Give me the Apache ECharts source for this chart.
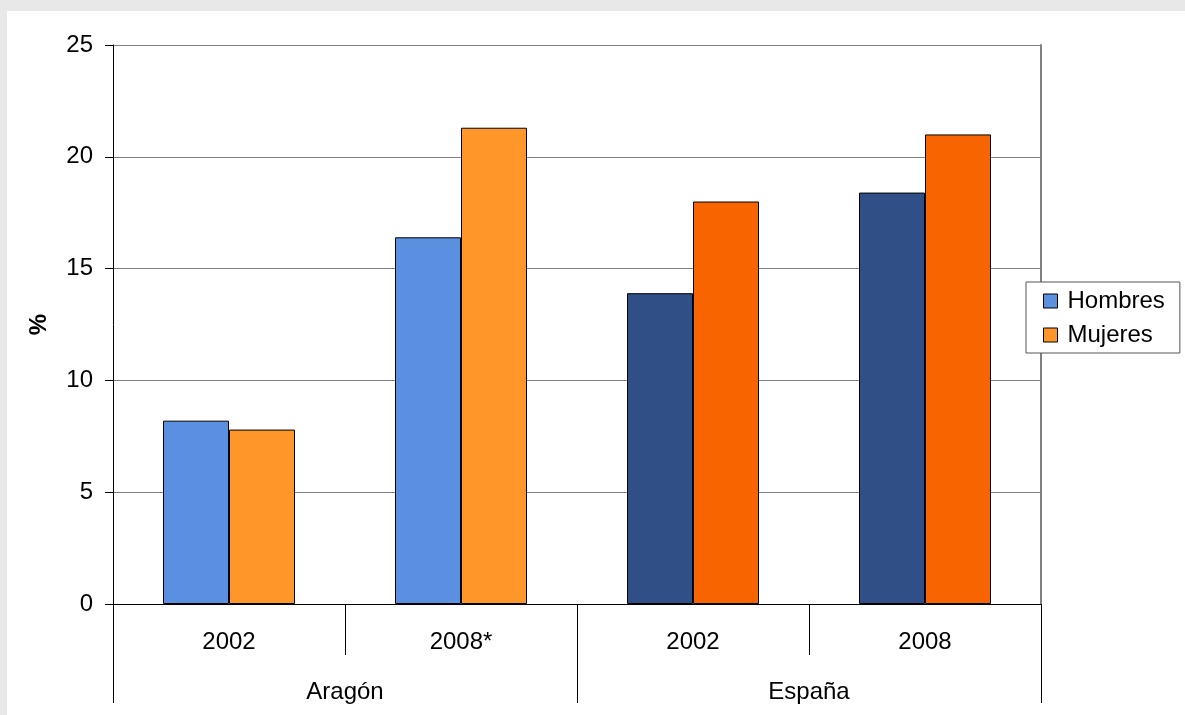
<!DOCTYPE html>
<html>
<head>
<meta charset="utf-8">
<script src="https://cdn.jsdelivr.net/npm/echarts@6/dist/echarts.min.js"></script>
<style>
  html, body { margin: 0; padding: 0; background: #e8e8e8; width: 1185px; height: 715px; overflow: hidden; }
  #panel { position: absolute; left: 7px; top: 11px; right: 0; bottom: 0; background: #ffffff; }
  #chart { position: absolute; left: 0; top: 0; width: 1185px; height: 715px; }
</style>
</head>
<body>
<div id="panel"></div>
<div id="chart"></div>
<script>
const years = ['2002', '2008*', '2002', '2008'];
const regions = ['Aragón', 'España'];
const hombres = [8.2, 16.4, 13.9, 18.4];
const mujeres = [7.8, 21.3, 18.0, 21.0];
const seriesNames = ['Hombres', 'Mujeres'];
const yMin = 0, yMax = 25, yStep = 5;

const FONT = "'Liberation Sans', Arial, sans-serif";
const lightColors = ['#5B8FE0', '#FF9629'];
const darkColors = ['#2F4F86', '#F86400'];

function buildData(values, s) {
  return values.map((v, i) => ({
    value: v,
    itemStyle: { color: i < 2 ? lightColors[s] : darkColors[s] }
  }));
}

const chart = echarts.init(document.getElementById('chart'), null, { renderer: 'canvas' });
chart.setOption({
  animation: false,
  textStyle: { fontFamily: FONT },
  grid: { left: 113, right: 144, top: 45, bottom: 111, containLabel: false },
  legend: {
    orient: 'vertical',
    left: 1026,
    top: 282,
    padding: [7, 15, 6, 17],
    itemGap: 10,
    itemWidth: 14,
    itemHeight: 14,
    borderColor: '#555555',
    borderWidth: 1,
    backgroundColor: '#ffffff',
    icon: 'rect',
    itemStyle: { borderColor: '#000000', borderWidth: 1 },
    textStyle: { fontSize: 24, color: '#000000', fontFamily: FONT, padding: [0, 0, 0, 5] },
    data: seriesNames
  },
  xAxis: [
    {
      type: 'category',
      data: years,
      position: 'bottom',
      axisLine: { show: true, lineStyle: { color: '#000000', width: 1 } },
      axisTick: { show: true, length: 51, interval: 0, lineStyle: { color: '#000000' } },
      axisLabel: { fontSize: 24, color: '#000000', margin: 26, fontFamily: FONT, interval: 0 },
      splitLine: { show: false }
    },
    {
      type: 'category',
      data: regions,
      position: 'bottom',
      axisLine: { show: false },
      axisTick: { show: true, length: 99, interval: 0, lineStyle: { color: '#000000' } },
      axisLabel: { fontSize: 24, color: '#000000', margin: 76, fontFamily: FONT, interval: 0 },
      splitLine: { show: false }
    }
  ],
  yAxis: [
    {
      type: 'value',
      min: yMin,
      max: yMax,
      interval: yStep,
      name: '%',
      nameLocation: 'middle',
      nameGap: 62,
      nameRotate: 90,
      nameTextStyle: { fontSize: 24, fontWeight: 'bold', color: '#000000', fontFamily: FONT },
      axisLine: { show: true, lineStyle: { color: '#000000', width: 1 } },
      axisTick: { show: true, length: 8, lineStyle: { color: '#000000' } },
      axisLabel: { fontSize: 24, color: '#000000', margin: 20, fontFamily: FONT },
      splitLine: { show: true, lineStyle: { color: '#808080', width: 1 } }
    },
    {
      type: 'value',
      min: yMin,
      max: yMax,
      interval: yStep,
      position: 'right',
      axisLine: { show: true, lineStyle: { color: '#808080', width: 2 } },
      axisTick: { show: false },
      axisLabel: { show: false },
      splitLine: { show: false }
    }
  ],
  series: [
    {
      name: seriesNames[0],
      type: 'bar',
      xAxisIndex: 0,
      yAxisIndex: 0,
      barWidth: 66,
      barGap: '0%',
      itemStyle: { color: lightColors[0], borderColor: '#000000', borderWidth: 1 },
      data: buildData(hombres, 0)
    },
    {
      name: seriesNames[1],
      type: 'bar',
      xAxisIndex: 0,
      yAxisIndex: 0,
      barWidth: 66,
      barGap: '0%',
      itemStyle: { color: lightColors[1], borderColor: '#000000', borderWidth: 1 },
      data: buildData(mujeres, 1)
    }
  ]
});
</script>
</body>
</html>
